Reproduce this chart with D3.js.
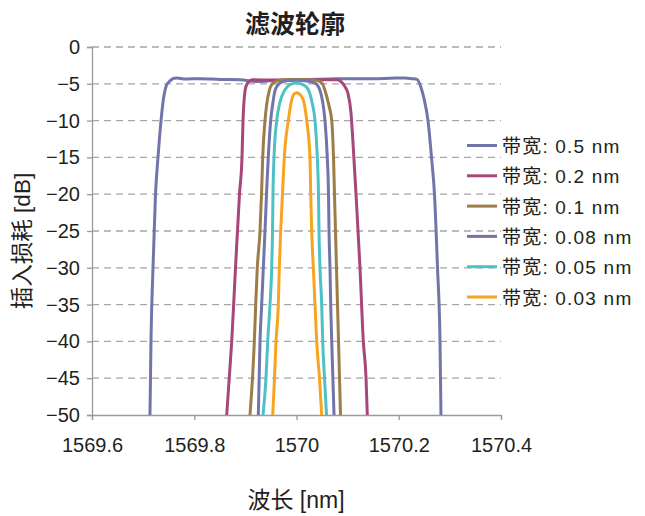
<!DOCTYPE html>
<html>
<head>
<meta charset="utf-8">
<script src="https://cdn.jsdelivr.net/npm/d3@7"></script>
<style>
  body { margin: 0; background: #fff; }
  text { font-family: "Liberation Sans", "Noto Sans CJK SC", sans-serif; fill: #231f20; }
</style>
</head>
<body>
<svg width="645" height="516"></svg>
<script>
// wavelength [nm], insertion loss [dB] pairs
var bw050 = [[1569.7134,-50],[1569.7154,-39.8],[1569.7193,-30],[1569.7242,-20],[1569.7291,-15],
  [1569.7350,-10],[1569.7399,-7],[1569.7457,-5.2],[1569.7526,-4.6],[1569.7604,-4.25],[1569.7663,-4.2],
  [1569.7819,-4.35],[1569.8112,-4.3],[1569.8504,-4.4],[1569.8895,-4.45],[1569.9247,-4.7],[1569.9482,-4.6],
  [1569.9873,-4.5],[1570.0264,-4.4],[1570.0655,-4.35],[1570.1046,-4.3],[1570.1438,-4.3],[1570.1829,-4.25],
  [1570.2122,-4.2],[1570.2259,-4.3],[1570.2357,-4.4],[1570.2435,-5.5],[1570.2494,-7],[1570.2572,-10],
  [1570.2641,-15],[1570.2699,-20],[1570.2758,-30],[1570.2807,-40],[1570.2826,-50]]
var bw020 = [[1569.8635,-50],[1569.8686,-44.8],[1569.8733,-40],[1569.8807,-30],[1569.8885,-20],
  [1569.8934,-15],[1569.8954,-10],[1569.8993,-6],[1569.9032,-5],[1569.9090,-4.6],[1569.9149,-4.45],
  [1569.9482,-4.5],[1570.0010,-4.5],[1570.0460,-4.45],[1570.0792,-4.45],[1570.0870,-4.7],[1570.0939,-5.3],
  [1570.1007,-6.3],[1570.1066,-9],[1570.1105,-13],[1570.1164,-20],[1570.1242,-30],[1570.1307,-40],
  [1570.1359,-44.8],[1570.1385,-50]]
var bw010 = [[1569.9090,-50],[1569.9139,-45],[1569.9175,-40],[1569.9202,-35],[1569.9233,-30],
  [1569.9286,-25],[1569.9319,-19.4],[1569.9339,-15],[1569.9384,-10],[1569.9468,-5.9],[1569.9540,-4.9],
  [1569.9677,-4.5],[1569.9873,-4.4],[1570.0068,-4.4],[1570.0362,-4.5],[1570.0499,-4.9],[1570.0557,-5.9],
  [1570.0636,-8],[1570.0689,-10],[1570.0724,-15],[1570.0743,-20],[1570.0763,-25],[1570.0782,-30],
  [1570.0802,-35],[1570.0822,-40],[1570.0841,-45],[1570.0861,-50]]
var bw008 = [[1569.9253,-50],[1569.9286,-40],[1569.9319,-35],[1569.9351,-30],[1569.9384,-25],
  [1569.9417,-19.4],[1569.9448,-15],[1569.9495,-10],[1569.9540,-7.5],[1569.9580,-5.9],[1569.9677,-4.9],
  [1569.9814,-4.6],[1569.9990,-4.5],[1570.0166,-4.6],[1570.0362,-4.9],[1570.0460,-5.9],[1570.0513,-7.5],
  [1570.0557,-10],[1570.0602,-15],[1570.0626,-20],[1570.0636,-25],[1570.0655,-30],[1570.0669,-35],
  [1570.0689,-40],[1570.0734,-50]]
var bw005 = [[1569.9345,-50],[1569.9403,-45],[1569.9437,-40],[1569.9482,-35],[1569.9515,-30],
  [1569.9531,-25],[1569.9540,-20],[1569.9560,-15],[1569.9613,-10],[1569.9677,-7.5],[1569.9775,-5.8],
  [1569.9873,-5.1],[1570.0004,-4.9],[1570.0127,-5.1],[1570.0231,-5.8],[1570.0303,-7.5],[1570.0362,-10],
  [1570.0407,-15],[1570.0430,-20],[1570.0440,-25],[1570.0460,-30],[1570.0493,-35],[1570.0513,-40],
  [1570.0548,-45],[1570.0587,-50]]
var bw003 = [[1569.9535,-50],[1569.9570,-45],[1569.9599,-40],[1569.9644,-35],[1569.9664,-30],
  [1569.9691,-25],[1569.9726,-20],[1569.9761,-15],[1569.9840,-10],[1569.9906,-7.2],[1569.9951,-6.4],
  [1570.0004,-6.2],[1570.0059,-6.4],[1570.0133,-7.2],[1570.0200,-10],[1570.0264,-15],[1570.0278,-20],
  [1570.0297,-25],[1570.0329,-30],[1570.0362,-35],[1570.0395,-40],[1570.0450,-45],[1570.0493,-50]]

var names = ["带宽: 0.5 nm", "带宽: 0.2 nm", "带宽: 0.1 nm", "带宽: 0.08 nm", "带宽: 0.05 nm", "带宽: 0.03 nm"]
var colors = ["#7275a9", "#a6477a", "#9c7d48", "#7275a9", "#4dc1c6", "#f7a520"]
var seriesData = [bw050, bw020, bw010, bw008, bw005, bw003]
var xTicks = [1569.6, 1569.8, 1570, 1570.2, 1570.4]
var yTicks = [0, -5, -10, -15, -20, -25, -30, -35, -40, -45, -50]

var svg = d3.select("svg")
var x = d3.scaleLinear().domain([1569.6, 1570.4]).range([92, 501])
var y = d3.scaleLinear().domain([-50, 0]).range([415, 47])

// dashed grid
svg.append("g").selectAll("line")
  .data(yTicks.filter(function (d) { return d > -50 }))
  .enter().append("line")
    .attr("x1", 92).attr("x2", 501)
    .attr("y1", function (d) { return y(d) }).attr("y2", function (d) { return y(d) })
    .attr("stroke", "#a6a6a6").attr("stroke-width", 1.3)
    .attr("stroke-dasharray", "7,5")

var yAxis = svg.append("g")
  .attr("transform", "translate(92,0)")
  .call(d3.axisLeft(y).tickValues(yTicks).tickSize(5).tickPadding(7).tickFormat(d3.format("d")))
var xAxis = svg.append("g")
  .attr("transform", "translate(0,415)")
  .call(d3.axisBottom(x).tickValues(xTicks).tickSize(5).tickPadding(18).tickFormat(function (d) { return d }))

;[yAxis, xAxis].forEach(function (g) {
  g.select(".domain").attr("stroke", "#9a9a9a").attr("stroke-width", 1.3)
  g.selectAll(".tick line").attr("stroke", "#9a9a9a").attr("stroke-width", 1.3)
  g.selectAll(".tick text").attr("font-size", 20).attr("fill", "#231f20")
    .style("font-family", "'Liberation Sans', sans-serif")
})

var line = d3.line()
  .x(function (d) { return x(d[0]) })
  .y(function (d) { return y(d[1]) })
  .curve(d3.curveMonotoneX)

seriesData.forEach(function (s, i) {
  svg.append("path")
    .datum(s)
    .attr("d", line)
    .attr("fill", "none")
    .attr("stroke", colors[i])
    .attr("stroke-width", 3)
    .attr("stroke-linejoin", "round")
})

// legend
var legend = svg.append("g")
names.forEach(function (n, i) {
  var ly = 145.5 + i * 30.3
  legend.append("line")
    .attr("x1", 467).attr("x2", 497).attr("y1", ly).attr("y2", ly)
    .attr("stroke", colors[i]).attr("stroke-width", 3)
  legend.append("text")
    .attr("x", 502).attr("y", ly + 7.5)
    .attr("font-size", 19)
    .attr("letter-spacing", 1.2)
    .text(n)
})

svg.append("text")
  .attr("x", 295).attr("y", 33)
  .attr("text-anchor", "middle")
  .attr("font-size", 25).attr("font-weight", "bold")
  .text("滤波轮廓")

svg.append("text")
  .attr("transform", "translate(30,241) rotate(-90)")
  .attr("text-anchor", "middle")
  .attr("font-size", 22.5)
  .text("插入损耗 [dB]")

svg.append("text")
  .attr("x", 296).attr("y", 508)
  .attr("text-anchor", "middle")
  .attr("font-size", 23)
  .text("波长 [nm]")
</script>
</body>
</html>
